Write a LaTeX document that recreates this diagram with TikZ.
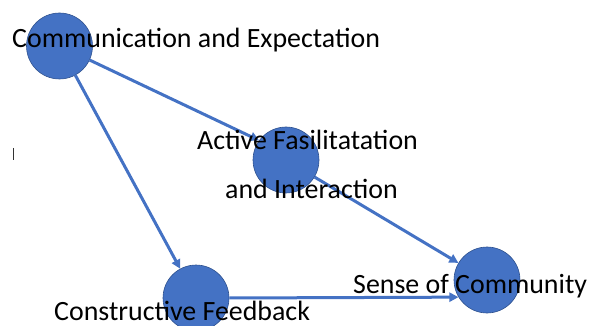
\documentclass[tikz,border=0pt]{standalone}
\usepackage{fontspec}
\setmainfont{Carlito}
\usetikzlibrary{arrows.meta}
\definecolor{nodeblue}{HTML}{4472C4}
\definecolor{edgeblue}{HTML}{2F528F}
\tikzset{
  circ/.style={circle, fill=nodeblue, draw=edgeblue, line width=0.6pt, minimum size=66pt, inner sep=0pt},
  conn/.style={draw=nodeblue, line width=3pt, -{Triangle[length=9pt,width=9pt]}},
  lbl/.style={anchor=base west, inner sep=0pt, font=\fontsize{27.9}{30}\selectfont, text=black}
}
\begin{document}
\begin{tikzpicture}[x=1pt,y=-1pt]
\useasboundingbox (0,0) rectangle (595,326);
% circles
\node[circ] (c1) at (59.5,46) {};
\node[circ] (c2) at (286,160) {};
\node[circ] (c3) at (196,298) {};
\node[circ] (c4) at (487,280) {};
% connectors
\draw[conn] (c1.335) -- (c2.144);
\draw[conn] (c1) -- (c3);
\draw[conn] (c2) -- (c4);
\draw[conn] (c3.east) -- (c4.211);
% labels
\node[lbl] (t1) at (12,47.5) {Communication and Expectation};
\node[lbl] (t2) at (197,149.5) {Active Fasilitatation};
\node[lbl] (t3) at (225,199) {and Interaction};
\node[lbl] (t4) at (54,320) {Constructive Feedback};
\node[lbl] (t5) at (353,294) {Sense of Community};
% small text cursor mark
\coordinate (m1) at (13,148);
\coordinate (m2) at (13,160);
\draw[black!80, line width=1pt] (m1) -- (m2);
\end{tikzpicture}
\end{document}
